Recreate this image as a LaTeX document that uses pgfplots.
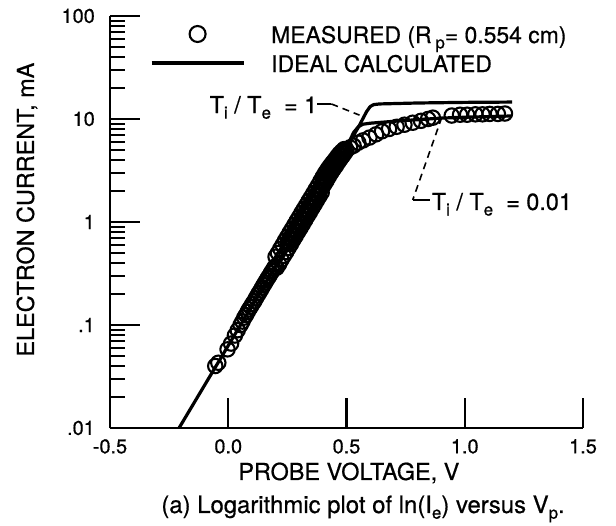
\documentclass[border=0pt]{standalone}
\usepackage{fontspec}
\setmainfont{TeX Gyre Heros}[FakeBold=0.6]
\usepackage{pgfplots}
\pgfplotsset{compat=1.18}

% lowered small letters for T_i, R_p, I_e, V_p
\newcommand{\sub}[1]{\raisebox{-0.45ex}{\fontsize{17}{17}\selectfont #1}}
\newcommand{\txt}{\fontsize{20}{24}\selectfont}
\newcommand{\lbl}{\fontsize{23.5}{27}\selectfont}

\pgfplotsset{
  widelegend/.style={legend image code/.code={\draw[mark repeat=2,mark phase=2,##1]
    plot coordinates {(0bp,0bp) (46bp,0bp) (92bp,0bp)};}},
  circlelegend/.style={legend image code/.code={\draw[mark repeat=2,mark phase=2,##1,mark size=8bp]
    plot coordinates {(0bp,0bp) (46bp,0bp) (92bp,0bp)};}},
}

\pgfplotstableread{
V I
-0.055 0.040
-0.042 0.043
-0.003 0.058
0.012 0.066
0.028 0.079
0.040 0.089
0.052 0.100
0.060 0.108
0.068 0.118
0.075 0.125
0.082 0.134
0.088 0.142
0.095 0.150
0.102 0.160
0.110 0.170
0.117 0.182
0.124 0.194
0.130 0.205
0.137 0.217
0.143 0.230
0.150 0.245
0.156 0.258
0.162 0.272
0.168 0.287
0.174 0.300
0.180 0.318
0.186 0.334
0.192 0.352
0.198 0.370
0.200 0.46
0.205 0.36
0.210 0.50
0.215 0.39
0.220 0.55
0.225 0.43
0.230 0.60
0.235 0.47
0.240 0.66
0.245 0.51
0.250 0.72
0.255 0.56
0.260 0.79
0.265 0.61
0.270 0.86
0.275 0.67
0.280 0.94
0.285 0.73
0.290 1.03
0.295 0.80
0.300 1.12
0.305 0.87
0.310 1.23
0.315 0.95
0.320 1.34
0.325 1.04
0.330 1.46
0.335 1.14
0.340 1.60
0.345 1.24
0.350 1.74
0.355 1.36
0.360 1.90
0.365 1.48
0.370 2.08
0.375 1.62
0.380 2.27
0.385 1.77
0.390 2.50
0.395 1.93
0.400 2.75
0.405 2.30
0.410 3.00
0.415 2.50
0.420 3.25
0.425 2.75
0.430 3.50
0.435 3.00
0.440 3.75
0.445 3.25
0.450 4.00
0.455 3.50
0.460 4.30
0.465 3.80
0.470 4.60
0.475 4.10
0.480 4.85
0.485 4.40
0.490 5.10
0.495 4.75
0.252 0.64
0.262 0.70
0.272 0.76
0.282 0.83
0.292 0.91
0.302 0.99
0.312 1.09
0.322 1.19
0.332 1.30
0.342 1.42
0.352 1.55
0.362 1.70
0.372 1.85
0.382 2.02
0.392 2.22
0.402 2.50
0.412 2.75
0.422 3.00
0.432 3.25
0.442 3.50
0.452 3.75
0.462 4.05
0.472 4.35
0.482 4.65
0.257 0.63
0.267 0.69
0.277 0.75
0.287 0.82
0.297 0.90
0.307 0.98
0.317 1.07
0.327 1.17
0.337 1.28
0.347 1.40
0.357 1.53
0.367 1.67
0.377 1.83
0.387 1.99
0.397 2.17
0.407 2.38
0.417 2.60
0.427 2.85
0.437 3.10
0.447 3.39
0.457 3.70
0.467 4.05
0.477 4.43
0.487 4.83
0.500 5.00
0.515 5.30
0.530 5.50
0.550 5.90
0.570 6.20
0.597 6.60
0.625 7.10
0.650 7.60
0.680 8.00
0.712 8.40
0.745 8.80
0.780 9.20
0.815 9.60
0.845 10.0
0.865 10.3
0.945 10.8
0.980 11.0
1.010 11.0
1.045 11.1
1.075 11.1
1.105 11.2
1.140 11.2
1.170 11.3
}\measured

\pgfplotstableread{
V I
-0.208 0.01
0.450 3.40
0.550 8.30
0.585 11.8
0.600 13.2
0.615 13.8
0.640 14.0
0.800 14.3
1.000 14.5
1.200 14.6
}\idealone

\pgfplotstableread{
V I
0.500 5.30
0.530 7.40
0.550 8.40
0.570 8.90
0.600 9.10
0.700 9.50
0.800 9.85
0.900 10.2
1.000 10.4
1.200 10.7
}\idealsmall

\begin{document}
\begin{tikzpicture}[x=1bp,y=1bp]
\useasboundingbox (-110,-98) rectangle (506,428);
\begin{axis}[
  scale only axis, width=473bp, height=412bp,
  xmin=-0.5, xmax=1.5, ymin=0.01, ymax=100, ymode=log,
  clip mode=individual,
  axis x line*=bottom, axis y line*=left,
  axis line style={line width=2.8bp},
  every tick/.style={black, line width=2.4bp},
  tick align=inside,
  major tick length=30bp, minor tick length=15bp,
  xtick={-0.5,0,0.5,1,1.5}, xticklabels={-0.5,0.0,0.5,1.0,1.5},
  ytick={0.01,0.1,1,10,100}, yticklabels={.01,.1,1,10,100},
  tick label style={font=\txt},
  xticklabel style={inner sep=0pt, anchor=north, yshift=-11bp},
  yticklabel style={inner sep=0pt, anchor=east, xshift=-15bp},
  xlabel={PROBE VOLTAGE, V},
  ylabel={ELECTRON CURRENT, mA},
  label style={font=\lbl},
  xlabel style={at={(axis description cs:0.505,-0.1262)}, anchor=base},
  ylabel style={at={(axis description cs:-0.1607,0.53)}, anchor=base},
  legend style={draw=none, fill=none, inner sep=0pt, outer sep=0pt,
    at={(axis description cs:0.0846,0.9211)}, anchor=west,
    font=\fontsize{23}{27}\selectfont, row sep=11bp, column sep=26bp,
    nodes={inner sep=0pt, text height=18bp, text depth=0bp}},
  legend cell align=left,
  widelegend,
]
\addplot[only marks, mark=o, mark size=7.2bp, mark options={line width=2.1bp, black}, circlelegend]
  table[x=V, y=I] {\measured};
\addlegendentry{MEASURED (R\,\sub{p}= 0.554 cm)}

\addplot[black, line width=3.2bp, mark=none, line join=round, widelegend] table[x=V, y=I] {\idealone};
\addlegendentry{IDEAL CALCULATED}

\addplot[black, line width=3.2bp, mark=none, line join=round, forget plot] table[x=V, y=I] {\idealsmall};

% annotations
\node[anchor=base east, font=\lbl, inner sep=0pt] at (axis cs:0.377,11.4) {T\sub{i} / T\sub{e}\ \ = 1};
\draw[line width=1.6bp] (axis cs:0.377,14.0) -- (axis cs:0.436,14.0);
\draw[line width=1.6bp, dash pattern=on 7bp off 5bp] (axis cs:0.436,14.0) -- (axis cs:0.555,10.9);

\draw[line width=1.6bp, dash pattern=on 7bp off 5bp] (axis cs:0.903,10.4) -- (axis cs:0.78,1.636);
\draw[line width=1.6bp] (axis cs:0.78,1.636) -- (axis cs:0.852,1.636);
\node[anchor=base west, font=\lbl, inner sep=0pt] at (axis cs:0.86,1.308) {T\sub{i} / T\sub{e}\ \ = 0.01};

\node[anchor=base, font=\fontsize{24}{28}\selectfont, inner sep=0pt] at (axis description cs:0.535,-0.2063)
  {(a) Logarithmic plot of ln(I\sub{e}) versus V\sub{p}.};
\end{axis}
\end{tikzpicture}
\end{document}
